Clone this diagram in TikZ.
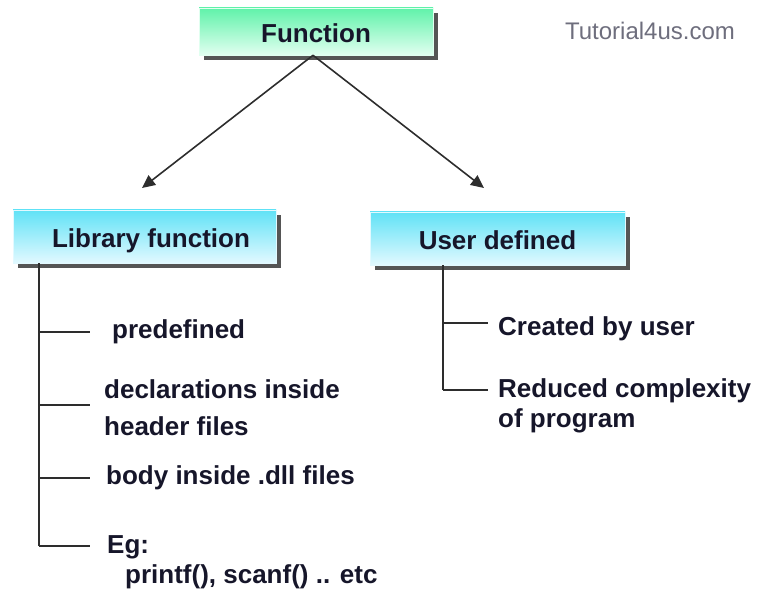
\documentclass[tikz,border=0pt]{standalone}
\usepackage{fontspec}
\setmainfont{Liberation Sans}
\usetikzlibrary{arrows.meta,shadows}
\definecolor{txt}{RGB}{22,22,42}
\definecolor{lnc}{RGB}{45,45,45}
\definecolor{shd}{RGB}{85,85,85}
\definecolor{gtop}{RGB}{96,242,170}
\definecolor{gbot}{RGB}{225,255,240}
\definecolor{ctop}{RGB}{96,226,246}
\definecolor{cbot}{RGB}{226,249,255}
\definecolor{wm}{RGB}{110,110,125}
\tikzset{
  hbox/.style={inner sep=0pt, text=txt, font=\fontsize{26}{30}\selectfont\bfseries,
    text height=23pt, text depth=0pt,
    general shadow={fill=shd, shadow xshift=5pt, shadow yshift=-5.5pt}},
  greenbox/.style={hbox, top color=gtop, bottom color=gbot, draw=gbot, line width=0.6pt},
  cyanbox/.style={hbox, top color=ctop, bottom color=cbot, draw=cbot, line width=0.6pt},
  item/.style={inner sep=0pt, text=txt, anchor=base west, align=left},
  treeline/.style={draw=lnc, line width=1.8pt},
  arr/.style={draw=lnc, line width=1.6pt, -{Triangle[length=13pt,width=12pt]}}
}
\begin{document}
\begin{tikzpicture}[x=1pt,y=-1pt]
\useasboundingbox (0,0) rectangle (761,596);
% top box
\node[greenbox, minimum width=234pt, minimum height=47pt] (func) at (316,31.5) {Function};
\node[inner sep=0pt, text=wm, anchor=base, font=\fontsize{24}{28}\selectfont] (wmk) at (650,40) {Tutorial4us.com};
% second level boxes
\node[cyanbox, minimum width=263pt, minimum height=53pt] (lib) at (144.5,236.5) {\hspace{13pt}Library function};
\node[cyanbox, minimum width=255pt, minimum height=53pt] (usr) at (497.5,238.5) {User defined\hspace{15pt}};
% arrows
\coordinate (lt) at (142,188);
\coordinate (rt) at (484,188);
\draw[arr] (func.south -| 313,0) -- (lt);
\draw[arr] (func.south -| 313,0) -- (rt);
% left tree
\coordinate (l0) at (lib.south -| 39,0);
\coordinate (l1) at (39,332);
\coordinate (l2) at (39,405);
\coordinate (l3) at (39,478);
\coordinate (l4) at (39,546);
\coordinate (e1) at (90,332);
\coordinate (e2) at (90,405);
\coordinate (e3) at (90,478);
\coordinate (e4) at (90,546);
\draw[treeline] (l0) -- (l4);
\draw[treeline] (l1) -- (e1);
\draw[treeline] (l2) -- (e2);
\draw[treeline] (l3) -- (e3);
\draw[treeline] (l4) -- (e4);
\node[item, font=\fontsize{26}{37}\selectfont\bfseries] (t1) at (112,338) {predefined};
\node[item, font=\fontsize{26}{37}\selectfont\bfseries] (t2) at (104,435) {declarations inside\\header files};
\node[item, font=\fontsize{26}{37}\selectfont\bfseries] (t3) at (106,484) {body inside .dll files};
\node[item, font=\fontsize{26}{30}\selectfont\bfseries] (t4) at (107,583) {Eg:\\\hspace{18pt}printf(), scanf() .. etc};
% right tree
\coordinate (r0) at (usr.south -| 443,0);
\coordinate (r1) at (443,323);
\coordinate (r2) at (443,390);
\coordinate (f1) at (488,323);
\coordinate (f2) at (488,390);
\draw[treeline] (r0) -- (r2);
\draw[treeline] (r1) -- (f1);
\draw[treeline] (r2) -- (f2);
\node[item, font=\fontsize{26}{30}\selectfont\bfseries] (u1) at (498,336) {Created by user};
\node[item, font=\fontsize{26}{30}\selectfont\bfseries] (u2) at (498,427) {Reduced complexity\\of program};
\end{tikzpicture}
\end{document}
